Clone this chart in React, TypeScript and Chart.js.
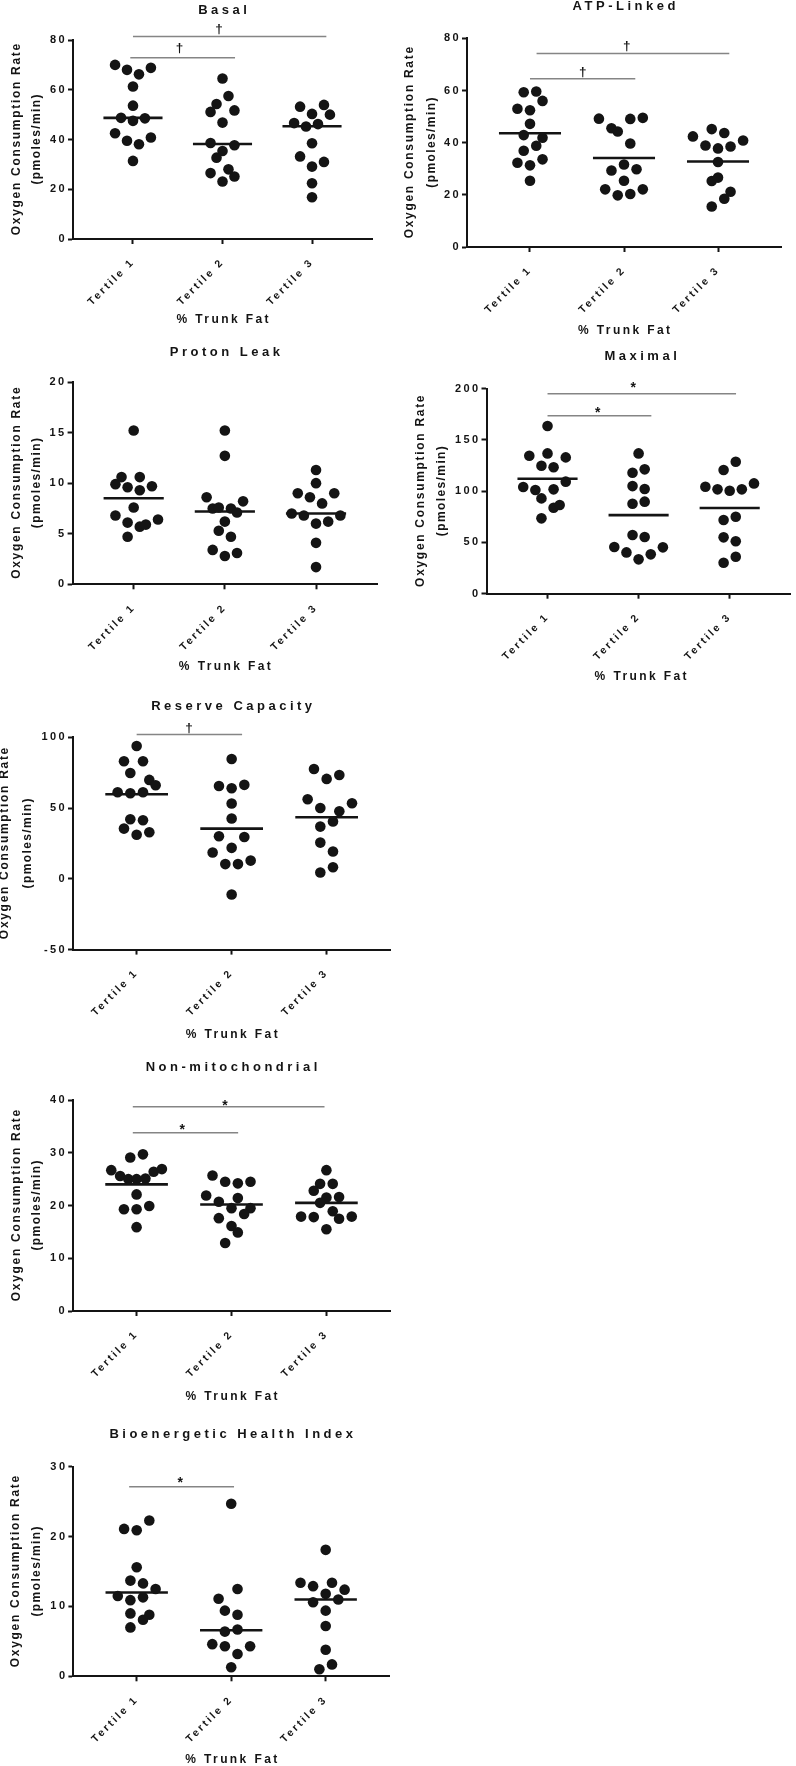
import { useEffect, useRef } from "react";
import { Chart, registerables } from "chart.js";

Chart.register(...registerables);

// ---------------- data ----------------
const categories = ["Tertile 1", "Tertile 2", "Tertile 3"];
const yTitle = "Oxygen Consumption Rate";
const yUnit = "(pmoles/min)";
const xTitle = "% Trunk Fat";

// Basal
const basalT1 = [70.0, 68.0, 66.2, 68.8, 61.3, 53.6, 48.7, 47.5, 48.5, 42.5, 39.5, 38.1, 40.8, 31.4];
const basalT2 = [64.5, 57.5, 54.3, 51.1, 51.7, 46.8, 38.6, 37.7, 35.4, 32.7, 26.5, 28.0, 23.1, 25.1];
const basalT3 = [53.2, 53.9, 50.3, 50.0, 46.6, 45.2, 46.2, 38.5, 33.2, 31.0, 29.1, 22.4, 16.8];
const basalMeans = [48.7, 38.2, 45.3];
const basalJitter = [
  [-3, -1, 1, 3, 0, 0, -2, 0, 2, -3, -1, 1, 3, 0],
  [0, 1, -1, -2, 2, 0, -2, 2, 0, -1, -2, 1, 0, 2],
  [-2, 2, 0, 3, -3, -1, 1, 0, -2, 2, 0, 0, 0],
];
// [from, to, y, symbolX, symbolY, symbol]
const basalSig: [number, number, number, number, number, string][] = [
  [0.0, 2.16, 81.4, 0.96, 84.5, "†"],
  [-0.03, 1.14, 72.9, 0.52, 77.1, "†"],
];

// ATP-Linked
const atpT1 = [59.3, 59.6, 56.0, 53.0, 52.4, 47.2, 42.9, 41.9, 38.8, 36.9, 32.3, 31.3, 33.6, 25.4];
const atpT2 = [49.2, 45.5, 44.3, 49.1, 49.5, 39.7, 29.3, 31.6, 29.8, 25.4, 22.1, 19.8, 20.3, 22.1];
const atpT3 = [42.4, 45.2, 43.7, 40.8, 38.9, 37.8, 38.5, 32.6, 25.3, 26.6, 21.2, 18.5, 15.5];
const atpMeans = [43.6, 34.1, 32.8];
const atpJitter = [
  [-1, 1, 2, -2, 0, 0, -1, 2, 1, -1, -2, 0, 2, 0],
  [-4, -2, -1, 1, 3, 1, -2, 0, 2, 0, -3, -1, 1, 3],
  [-4, -1, 1, 4, -2, 0, 2, 0, -1, 0, 2, 1, -1],
];
const atpSig: [number, number, number, number, number, string][] = [
  [0.07, 2.12, 74.2, 1.03, 77.1, "†"],
  [0.0, 1.12, 64.5, 0.56, 67.3, "†"],
];

// Proton Leak
const protonT1 = [15.2, 10.6, 10.6, 9.9, 9.6, 9.3, 9.7, 7.6, 6.8, 6.1, 5.7, 5.9, 6.4, 4.7];
const protonT2 = [15.2, 12.7, 8.6, 8.2, 7.5, 7.6, 7.5, 7.1, 6.2, 5.3, 4.7, 3.4, 2.8, 3.1];
const protonT3 = [11.3, 10.0, 9.0, 8.6, 9.0, 8.0, 7.0, 6.8, 6.0, 6.2, 6.8, 4.1, 1.7];
const protonMeans = [8.5, 7.2, 7.0];
const protonJitter = [
  [0, -2, 1, -3, -1, 1, 3, 0, -3, -1, 1, 2, 4, -1],
  [0, 0, -3, 3, -2, -1, 1, 2, 0, -1, 1, -2, 0, 2],
  [0, 0, -3, -1, 3, 1, -4, -2, 0, 2, 4, 0, 0],
];
const protonSig: [number, number, number, number, number, string][] = [];

// Maximal
const maxT1 = [163.6, 134.6, 136.9, 133.0, 124.9, 123.3, 109.3, 104.1, 101.1, 101.8, 93.0, 83.9, 86.5, 73.5];
const maxT2 = [136.9, 118.0, 121.3, 105.0, 102.1, 87.8, 89.8, 57.2, 55.3, 45.5, 40.3, 33.5, 38.4, 45.2];
const maxT3 = [128.8, 120.7, 104.4, 101.8, 100.5, 101.8, 107.6, 71.9, 75.1, 55.0, 51.1, 30.2, 36.1];
const maxMeans = [112.2, 76.7, 83.6];
const maxJitter = [
  [0, -3, 0, 3, -1, 1, 3, -4, -2, 1, -1, 1, 2, -1],
  [0, -1, 1, -1, 1, -1, 1, -1, 1, -4, -2, 0, 2, 4],
  [1, -1, -4, -2, 0, 2, 4, -1, 1, -1, 1, -1, 1],
];
const maxSig: [number, number, number, number, number, string][] = [
  [0.0, 2.07, 195.1, 0.94, 204.6, "*"],
  [0.0, 1.14, 173.7, 0.55, 180.3, "*"],
];

// Reserve Capacity
const resT1 = [93.9, 83.1, 83.1, 74.8, 69.9, 66.1, 61.2, 60.5, 61.2, 42.1, 41.4, 35.5, 31.1, 32.9];
const resT2 = [84.7, 65.6, 64.0, 66.4, 53.2, 42.6, 30.1, 29.6, 21.9, 18.6, 10.4, 10.4, 12.9, -11.1];
const resT3 = [77.6, 70.6, 73.4, 56.2, 50.1, 53.4, 47.8, 40.5, 36.9, 25.6, 19.3, 8.2, 4.5];
const resMeans = [59.8, 35.5, 43.5];
const resJitter = [
  [0, -2, 1, -1, 2, 3, -3, -1, 1, -1, 1, -2, 0, 2],
  [0, -2, 0, 2, 0, 0, -2, 2, 0, -3, -1, 1, 3, 0],
  [-2, 0, 2, -3, -1, 4, 2, 1, -1, -1, 1, 1, -1],
];
const resSig: [number, number, number, number, number, string][] = [
  [0.0, 1.11, 101.9, 0.55, 106.8, "†"],
];

// Non-mitochondrial
const nonT1 = [29.1, 29.7, 26.7, 25.6, 25.0, 25.0, 25.1, 26.4, 26.9, 22.1, 19.3, 19.3, 19.9, 15.9];
const nonT2 = [25.7, 24.5, 24.2, 24.5, 21.9, 20.7, 21.4, 19.5, 19.5, 18.4, 17.6, 16.1, 14.9, 12.9];
const nonT3 = [26.7, 24.1, 24.1, 22.8, 21.5, 21.6, 20.5, 17.9, 17.8, 18.9, 17.5, 17.9, 15.5];
const nonMeans = [24.0, 20.2, 20.5];
const nonJitter = [
  [-1, 1, -4, -2.6, -1.3, 0, 1.4, 2.7, 4, 0, -2, 0, 2, 0],
  [-3, -1, 1, 3, -4, -2, 1, 0, 3, 2, -2, 0, 1, -1],
  [0, -1, 1, -2, 0, 2, -1, -4, -2, 1, 2, 4, 0],
];
const nonSig: [number, number, number, number, number, string][] = [
  [-0.04, 1.98, 38.72, 0.93, 39.7, "*"],
  [-0.04, 1.07, 33.8, 0.48, 35.1, "*"],
];

// Bioenergetic Health Index
const bhiT1 = [22.3, 21.1, 20.9, 15.6, 13.7, 13.3, 12.5, 11.5, 10.9, 11.3, 9.0, 8.8, 8.1, 7.0];
const bhiT2 = [24.7, 12.5, 11.1, 9.4, 8.8, 6.4, 6.7, 4.6, 4.3, 4.3, 3.2, 1.3];
const bhiT3 = [18.1, 13.4, 12.9, 13.4, 12.4, 11.8, 10.6, 11.0, 9.4, 7.2, 3.8, 1.0, 1.7];
const bhiMeans = [12.0, 6.6, 11.0];
const bhiJitter = [
  [2, -2, 0, 0, -1, 1, 3, -3, -1, 1, -1, 2, 1, -1],
  [0, 1, -2, -1, 1, -1, 1, -3, -1, 3, 1, 0],
  [0, -4, -2, 1, 3, 0, -2, 2, 0, 0, 0, -1, 1],
];
const bhiSig: [number, number, number, number, number, string][] = [
  [-0.08, 1.03, 27.13, 0.46, 28.3, "*"],
];

// ---------------- layout / style ----------------
const FONT = '"Liberation Sans", Arial, Helvetica, sans-serif';
const INK = "#141414";
const SLOT = 0.0667;
const HALF_MEAN = 0.33;

type Layout = {
  canvas: [number, number, number, number];
  plot: [number, number, number, number];
  titleY: number;
  xTitleY: number;
  yTitleX: [number, number];
};

type PanelDef = {
  title: string;
  groups: number[][];
  jitter: number[][];
  means: number[];
  sig: [number, number, number, number, number, string][];
  yMin: number;
  yMax: number;
  yStep: number;
  layout: Layout;
};

const panels: PanelDef[] = [
  {
    title: "Basal", groups: [basalT1, basalT2, basalT3], jitter: basalJitter, means: basalMeans, sig: basalSig,
    yMin: 0, yMax: 80, yStep: 20,
    layout: { canvas: [0, 0, 398, 342], plot: [73, 40, 372, 239], titleY: 10.5, xTitleY: 320, yTitleX: [17, 37] },
  },
  {
    title: "ATP-Linked", groups: [atpT1, atpT2, atpT3], jitter: atpJitter, means: atpMeans, sig: atpSig,
    yMin: 0, yMax: 80, yStep: 20,
    layout: { canvas: [398, 0, 398, 345], plot: [467, 38.3, 781, 247], titleY: 6.5, xTitleY: 330.7, yTitleX: [410, 432] },
  },
  {
    title: "Proton Leak", groups: [protonT1, protonT2, protonT3], jitter: protonJitter, means: protonMeans, sig: protonSig,
    yMin: 0, yMax: 20, yStep: 5,
    layout: { canvas: [0, 342, 398, 350], plot: [72.6, 382, 377.1, 584.3], titleY: 352, xTitleY: 666.7, yTitleX: [16.7, 37] },
  },
  {
    title: "Maximal", groups: [maxT1, maxT2, maxT3], jitter: maxJitter, means: maxMeans, sig: maxSig,
    yMin: 0, yMax: 200, yStep: 50,
    layout: { canvas: [398, 345, 398, 350], plot: [486.5, 388.7, 794.7, 593.7], titleY: 356, xTitleY: 677, yTitleX: [421, 442] },
  },
  {
    title: "Reserve Capacity", groups: [resT1, resT2, resT3], jitter: resJitter, means: resMeans, sig: resSig,
    yMin: -50, yMax: 100, yStep: 50,
    layout: { canvas: [0, 692, 398, 358], plot: [73, 737.3, 390.3, 949.6], titleY: 706, xTitleY: 1034.3, yTitleX: [5, 28] },
  },
  {
    title: "Non-mitochondrial", groups: [nonT1, nonT2, nonT3], jitter: nonJitter, means: nonMeans, sig: nonSig,
    yMin: 0, yMax: 40, yStep: 10,
    layout: { canvas: [0, 1050, 398, 362], plot: [73, 1100, 390, 1311], titleY: 1067.5, xTitleY: 1396.7, yTitleX: [16.7, 36.7] },
  },
  {
    title: "Bioenergetic Health Index", groups: [bhiT1, bhiT2, bhiT3], jitter: bhiJitter, means: bhiMeans, sig: bhiSig,
    yMin: 0, yMax: 30, yStep: 10,
    layout: { canvas: [0, 1412, 398, 354], plot: [73.4, 1466.7, 389, 1676.3], titleY: 1434.7, xTitleY: 1760, yTitleX: [15.3, 37] },
  },
];

function spacedText(
  ctx: CanvasRenderingContext2D,
  text: string,
  x: number,
  y: number,
  font: string,
  spacing: number,
  rotate = 0
) {
  ctx.save();
  ctx.font = font;
  (ctx as any).letterSpacing = spacing + "px";
  ctx.textAlign = "center";
  ctx.textBaseline = "middle";
  ctx.fillStyle = INK;
  ctx.translate(x, y);
  if (rotate) ctx.rotate(rotate);
  ctx.fillText(text, spacing / 2, 0);
  ctx.restore();
}

function PanelChart({ p }: { p: PanelDef }) {
  const ref = useRef<HTMLCanvasElement>(null);

  useEffect(() => {
    const canvas = ref.current;
    if (!canvas) return;
    const [cx, cy, cw, ch] = p.layout.canvas;
    const [pl, pt, pr, pb] = p.layout.plot;

    const datasets: any[] = [];
    p.groups.forEach((vals, gi) => {
      datasets.push({
        label: categories[gi],
        data: vals.map((v, i) => ({ x: gi + p.jitter[gi][i] * SLOT, y: v })),
        pointRadius: 5.3,
        pointBackgroundColor: INK,
        pointBorderWidth: 0,
        showLine: false,
        clip: false,
      });
    });
    p.means.forEach((m, gi) => {
      datasets.push({
        label: "mean " + categories[gi],
        data: [
          { x: gi - HALF_MEAN, y: m },
          { x: gi + HALF_MEAN, y: m },
        ],
        showLine: true,
        borderColor: INK,
        borderWidth: 2.6,
        pointRadius: 0,
        clip: false,
      });
    });
    p.sig.forEach((s) => {
      datasets.push({
        label: "sig",
        data: [
          { x: s[0], y: s[2] },
          { x: s[1], y: s[2] },
        ],
        showLine: true,
        borderColor: "#858585",
        borderWidth: 1.5,
        pointRadius: 0,
        clip: false,
      });
    });

    const decor = {
      id: "decor",
      beforeDraw(chart: any) {
        chart.ctx.letterSpacing = "2.4px";
      },
      afterDraw(chart: any) {
        const ctx: CanvasRenderingContext2D = chart.ctx;
        ctx.save();
        (ctx as any).letterSpacing = "0px";
        const midX = (pl + pr) / 2 - cx;
        const midY = (pt + pb) / 2 - cy;
        spacedText(ctx, p.title, midX, p.layout.titleY - cy, `bold 13px ${FONT}`, 3.5);
        spacedText(ctx, xTitle, midX, p.layout.xTitleY - cy, `bold 12px ${FONT}`, 2.4);
        spacedText(ctx, yTitle, p.layout.yTitleX[0] - cx, midY, `bold 12px ${FONT}`, 1.7, -Math.PI / 2);
        spacedText(ctx, yUnit, p.layout.yTitleX[1] - cx, midY, `bold 12px ${FONT}`, 1.4, -Math.PI / 2);
        const xs = chart.scales.x;
        const ys = chart.scales.y;
        p.sig.forEach((s) => {
          const isStar = s[5] === "*";
          const size = isStar ? 14 : 13.5;
          ctx.save();
          ctx.font = `bold ${size}px ${FONT}`;
          ctx.textAlign = "center";
          ctx.textBaseline = "alphabetic";
          ctx.fillStyle = INK;
          const yc = ys.getPixelForValue(s[4]);
          const off = isStar ? 0.57 * size : 0.32 * size;
          ctx.fillText(s[5], xs.getPixelForValue(s[3]), yc + off);
          ctx.restore();
        });
        ctx.restore();
      },
    };

    const chart = new Chart(canvas, {
      type: "scatter",
      data: { datasets },
      options: {
        animation: false,
        responsive: false,
        events: [],
        layout: { padding: { top: pt - cy, right: cx + cw - pr, left: 0, bottom: 0 } },
        plugins: {
          legend: { display: false },
          tooltip: { enabled: false },
          title: { display: false },
        },
        scales: {
          x: {
            type: "linear",
            min: -0.67,
            max: 2.67,
            afterBuildTicks: (s: any) => {
              s.ticks = [0, 1, 2].map((v) => ({ value: v }));
            },
            afterFit: (s: any) => {
              s.height = cy + ch - pb;
            },
            ticks: {
              callback: (v: any) => categories[v as number] ?? "",
              minRotation: 45,
              maxRotation: 45,
              autoSkip: false,
              padding: 12,
              color: INK,
              font: { family: FONT, size: 10.5, weight: "bold" as const },
            },
            grid: {
              display: true,
              drawOnChartArea: false,
              drawTicks: true,
              tickLength: 5,
              tickColor: INK,
              tickWidth: 2,
            },
            border: { display: true, color: INK, width: 2 },
          },
          y: {
            type: "linear",
            min: p.yMin,
            max: p.yMax,
            afterFit: (s: any) => {
              s.width = pl - cx;
            },
            ticks: {
              stepSize: p.yStep,
              padding: 1,
              color: INK,
              font: { family: FONT, size: 11, weight: "bold" as const },
            },
            grid: {
              display: true,
              drawOnChartArea: false,
              drawTicks: true,
              tickLength: 5,
              tickColor: INK,
              tickWidth: 2,
            },
            border: { display: true, color: INK, width: 2 },
          },
        },
      } as any,
      plugins: [decor],
    });

    return () => {
      chart.destroy();
    };
  }, [p]);

  const [cx, cy, cw, ch] = p.layout.canvas;
  return (
    <canvas
      ref={ref}
      width={cw}
      height={ch}
      style={{ position: "absolute", left: cx, top: cy, width: cw, height: ch }}
    />
  );
}

export default function App() {
  return (
    <div
      style={{
        position: "absolute",
        left: 0,
        top: 0,
        width: 796,
        height: 1766,
        background: "#fff",
        overflow: "hidden",
      }}
    >
      {panels.map((p) => (
        <PanelChart key={p.title} p={p} />
      ))}
    </div>
  );
}
